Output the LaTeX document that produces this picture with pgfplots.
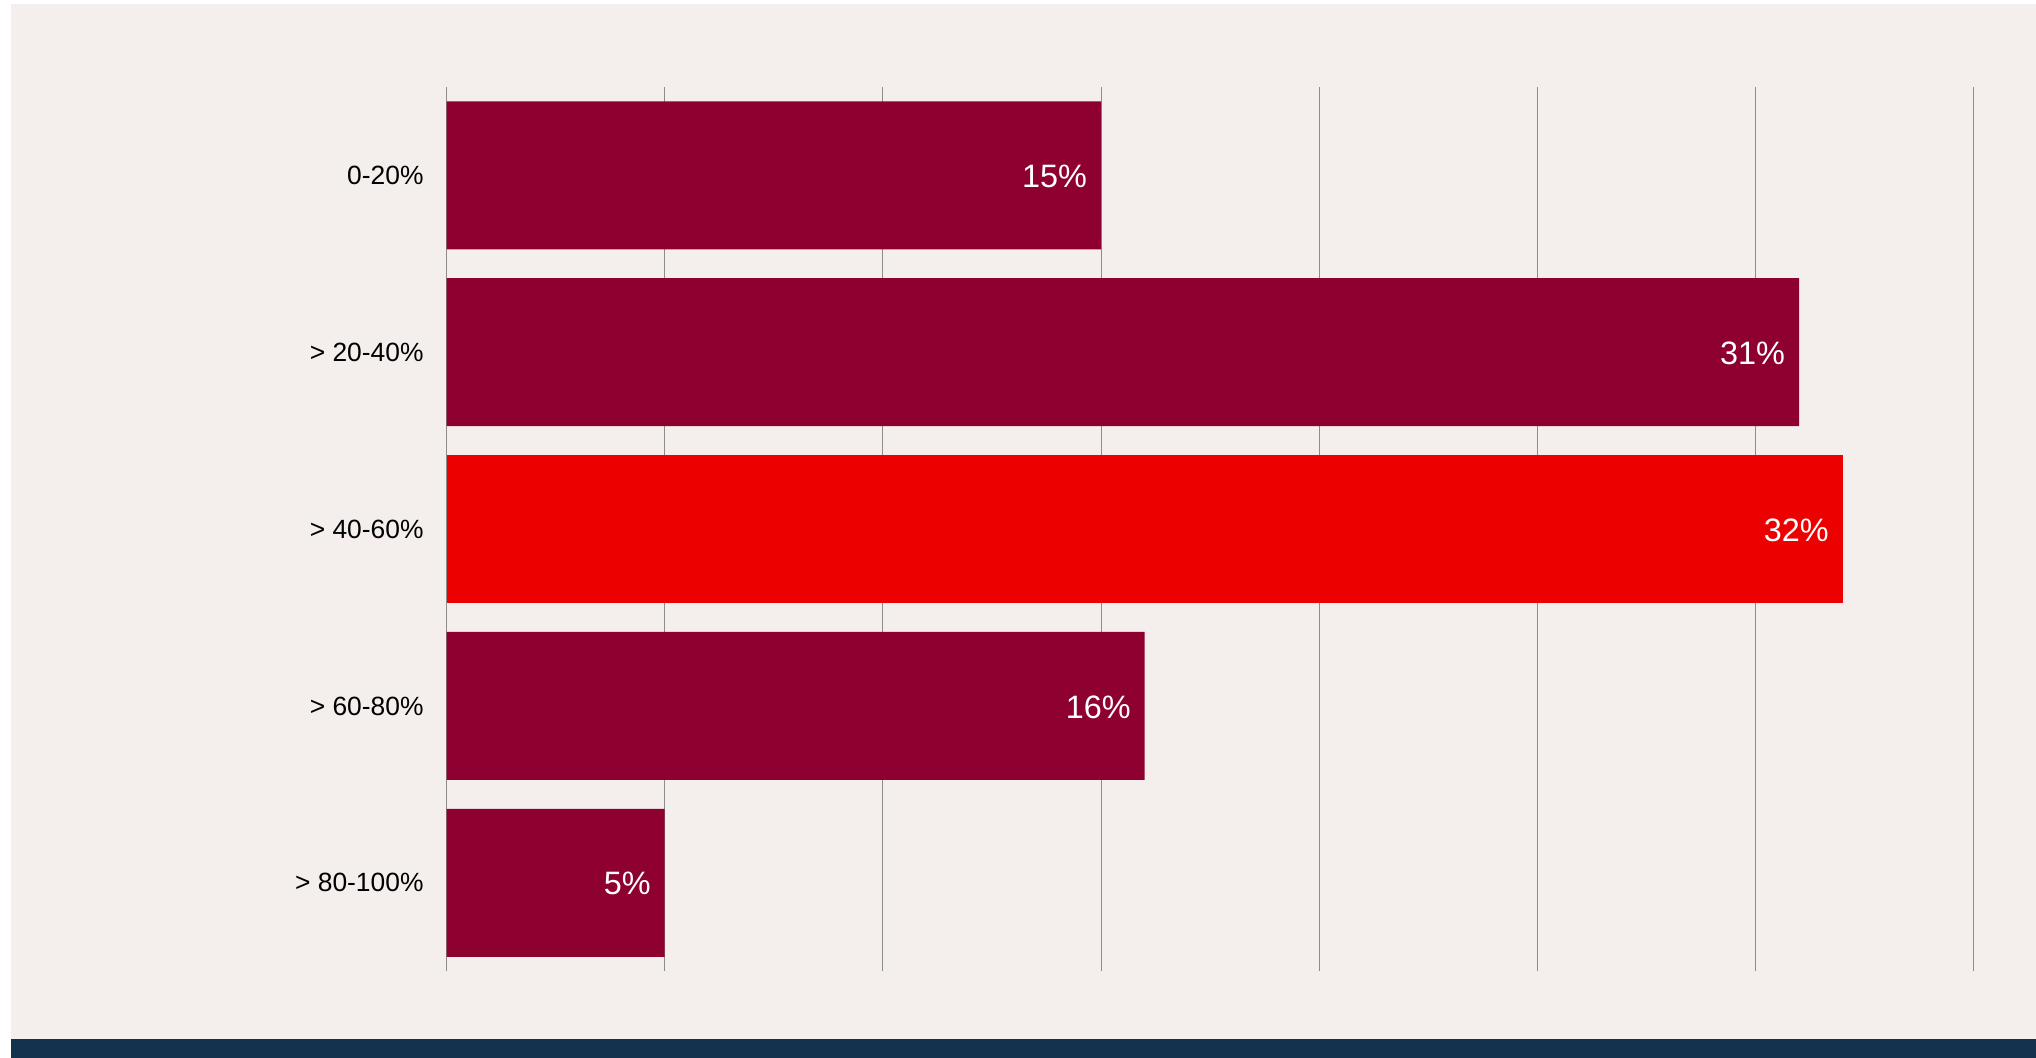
\documentclass[border=0pt]{standalone}
\usepackage{fontspec}
\setmainfont{Liberation Sans}
\usepackage{pgfplots}
\pgfplotsset{compat=1.18}
\definecolor{bgcol}{RGB}{244,239,236}
\definecolor{navy}{RGB}{20,50,78}
\definecolor{wine}{RGB}{142,0,48}
\definecolor{brightred}{RGB}{237,0,0}
\definecolor{gridgray}{RGB}{140,140,140}
\begin{document}
\begin{tikzpicture}
% page and panel
\fill[white] (0,0) rectangle (1018pt,529pt);
\fill[bgcol] (5.5pt,9.5pt) rectangle (1018pt,527pt);
\fill[navy] (5.5pt,0pt) rectangle (1018pt,9.5pt);
\begin{axis}[
    at={(223.3pt,43.35pt)}, anchor=south west,
    scale only axis,
    width=763.5pt, height=442.2pt,
    xbar, bar width=74pt,
    xmin=0, xmax=35,
    ymin=-0.5, ymax=4.5,
    y dir=reverse,
    xtick={0,5,...,35}, xticklabels={},
    ytick={0,1,2,3,4},
    yticklabels={0-20\%, > 20-40\%, > 40-60\%, > 60-80\%, > 80-100\%},
    yticklabel style={font=\fontsize{13.2}{15}\selectfont, black, xshift=-8pt},
    major tick length=0pt,
    axis line style={draw=none},
    xmajorgrids,
    grid style={gridgray, line width=0.5pt},
    /pgf/number format/assume math mode=true,
    nodes near coords={\pgfmathprintnumber{\pgfplotspointmeta}\%},
    every node near coord/.append style={anchor=east, xshift=-3.5pt, yshift=-0.5pt,
        text=white, font=\fontsize{16.2}{19}\selectfont},
    clip=false,
]
\addplot[fill=wine, draw=none, bar shift=0pt] coordinates {(15,0) (31,1) (16,3) (5,4)};
\addplot[fill=brightred, draw=none, bar shift=0pt] coordinates {(32,2)};
\end{axis}
\end{tikzpicture}
\end{document}
